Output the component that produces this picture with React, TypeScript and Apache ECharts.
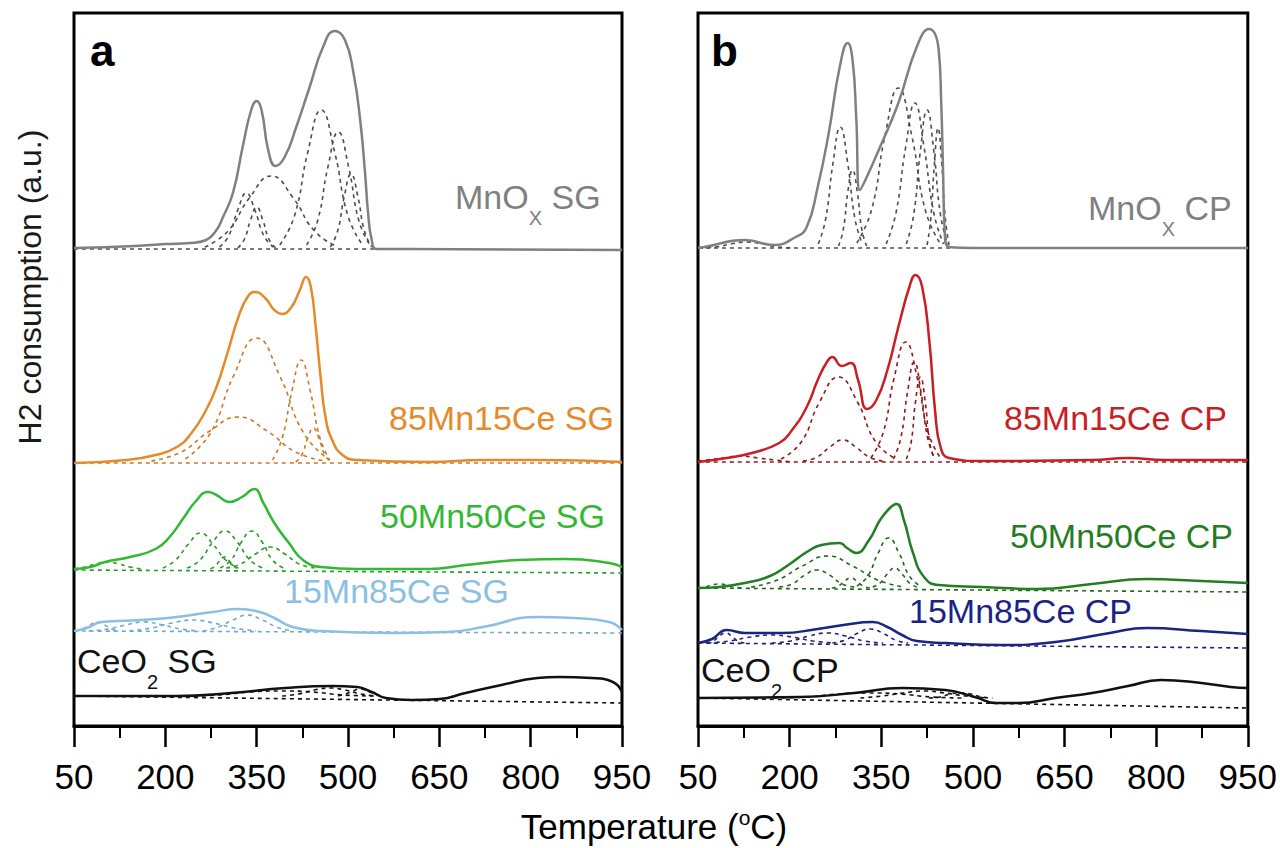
import React, { useEffect, useRef } from 'react';
import * as echarts from 'echarts';

// ---------- axis ----------
const T_MIN = 50;
const T_MAX = 950;
const T_STEP = 150;

// ---------- panel a (SG) main curves: [T (°C), signal above own baseline] ----------
const mnoxSG = [[50,1],[150,3],[200,5],[240,6],[267,9],[284,19],[294,31],[311,56],[327,102],[341,139],[350,148],[358,139],[369,99],[381,83],[396,92],[415,122],[437,162],[459,202],[478,218],[495,209],[509,176],[520,129],[528,76],[533,36],[539,9],[547,0],[600,0],[950,-1]];
const mn85SG = [[50,0],[136,3],[184,8],[219,16],[243,30],[267,53],[284,76],[302,110],[320,146],[335,166],[347,171],[364,165],[379,153],[391,149],[406,155],[421,173],[431,186],[439,176],[447,136],[455,86],[463,46],[474,23],[491,8],[515,3],[633,1],[722,3],[811,3],[950,1]];
const mn50SG = [[50,0],[77,2],[101,7],[142,12],[184,20],[207,32],[231,52],[249,67],[270,77],[284,74],[305,67],[326,72],[346,80],[361,66],[379,46],[403,26],[426,9],[456,2],[515,0],[633,0],[693,4],[781,9],[858,10],[929,6],[950,2]];
const mn15SG = [[50,0],[71,3],[95,9],[160,11],[219,14],[278,19],[320,22],[355,19],[379,13],[409,4],[456,0],[574,-2],[663,-1],[722,4],[811,14],[870,13],[929,9],[950,1]];
const ceo2SG = [[50,0],[219,0],[308,3],[397,8],[474,10],[515,9],[539,4],[562,-2],[604,-4],[651,-3],[693,3],[752,11],[811,18],[846,19],[900,18],[935,14],[950,4]];

// ---------- panel a deconvoluted components ----------
const mnoxSGComps = [
  [[289,2],[304,13],[319,39],[333,56],[347,39],[362,13],[377,2]],
  [[319,1],[330,10],[340,29],[350,42],[360,29],[370,10],[381,1]],
  [[265,2],[303,18],[338,51],[374,73],[410,51],[445,18],[483,2]],
  [[388,4],[412,33],[434,97],[456,139],[478,97],[500,33],[524,4]],
  [[432,4],[450,28],[467,82],[484,117],[501,82],[518,28],[536,4]],
  [[471,2],[483,18],[494,53],[505,75],[516,53],[527,18],[539,2]],
  [[50,0],[545,0]],
];
const mn85SGComps = [
  [[233,4],[274,30],[312,87],[350,125],[388,87],[427,30],[467,4]],
  [[177,2],[226,11],[273,32],[320,46],[367,32],[414,11],[463,2]],
  [[376,3],[392,25],[408,72],[423,103],[438,72],[454,25],[470,3]],
  [[414,1],[424,8],[434,25],[443,35],[452,25],[462,8],[472,1]],
  [[50,0],[950,0]],
];
const mn50SGComps = [
  [[196,1],[217,9],[238,25],[258,36],[278,25],[299,9],[320,1]],
  [[236,1],[257,9],[278,27],[298,38],[318,27],[339,9],[360,1]],
  [[290,1],[308,9],[325,27],[342,38],[359,27],[376,9],[394,1]],
  [[300,1],[324,5],[348,15],[372,22],[396,15],[420,5],[445,1]],
  [[274,0],[282,3],[289,8],[297,12],[305,8],[312,3],[320,0]],
  [[50,0],[68,2],[86,5],[105,7],[124,5],[142,2],[162,0]],
  [[50,-1],[950,-4]],
];
const mn15SGComps = [
  [[52,0],[64,2],[76,6],[88,9],[100,6],[112,2],[124,0]],
  [[74,0],[106,2],[135,6],[165,9],[195,6],[225,2],[256,0]],
  [[141,0],[177,3],[211,8],[245,11],[279,8],[313,3],[349,0]],
  [[262,0],[287,4],[311,11],[335,16],[359,11],[383,4],[408,0]],
  [[50,0],[950,-2]],
];
const ceo2SGComps = [
  [[234,0],[288,1],[339,4],[390,5],[441,4],[492,1],[546,0]],
  [[392,0],[419,2],[445,6],[470,8],[495,6],[521,2],[548,0]],
  [[484,0],[496,2],[508,5],[520,7],[532,5],[544,2],[556,0]],
  [[50,0],[950,-7]],
];

// ---------- panel b (CP) main curves ----------
const mnoxCP = [[50,0],[60,1],[127,8],[174,3],[210,11],[228,21],[246,61],[264,115],[282,181],[295,205],[303,188],[309,131],[315,58],[324,68],[348,101],[378,145],[408,201],[428,219],[444,198],[448,148],[451,81],[454,15],[461,1],[515,0],[950,0]];
const mn85CP = [[50,0],[97,4],[138,9],[183,19],[204,32],[228,55],[246,82],[261,100],[270,105],[285,96],[300,99],[312,82],[327,53],[342,62],[360,92],[378,135],[396,175],[406,187],[417,175],[429,119],[438,52],[447,15],[461,4],[515,1],[695,2],[754,4],[814,2],[950,2]];
const mn50CP = [[50,0],[85,1],[127,5],[168,12],[198,23],[228,36],[252,43],[282,45],[294,40],[309,35],[330,48],[348,68],[364,80],[375,84],[387,68],[402,35],[420,11],[444,3],[515,1],[605,-1],[695,4],[784,9],[874,7],[950,5]];
const mn15CP = [[50,0],[73,4],[97,13],[127,10],[187,10],[246,14],[288,18],[336,21],[360,16],[384,8],[408,2],[455,0],[545,-2],[635,1],[724,10],[784,15],[874,12],[950,9]];
const ceo2CP = [[50,0],[216,1],[306,5],[384,10],[455,8],[503,1],[539,-5],[575,-5],[635,0],[695,5],[754,12],[808,18],[874,15],[922,11],[950,10]];

// ---------- panel b deconvoluted components ----------
const mnoxCPComps = [
  [[52,0],[79,1],[104,4],[130,6],[156,4],[181,1],[208,0]],
  [[247,4],[259,29],[271,85],[283,121],[295,85],[307,29],[319,4]],
  [[280,2],[288,19],[295,55],[303,78],[311,55],[318,19],[326,2]],
  [[310,5],[334,38],[356,112],[378,160],[400,112],[422,38],[446,5]],
  [[358,4],[374,35],[390,101],[405,145],[420,101],[436,35],[452,4]],
  [[391,4],[403,33],[414,97],[425,138],[436,97],[447,33],[459,4]],
  [[425,3],[431,29],[437,84],[443,120],[449,84],[455,29],[461,3]],
  [[50,0],[470,0]],
];
const mn85CPComps = [
  [[50,1],[64,2],[92,4],[120,6],[148,4],[176,2],[204,0]],
  [[186,3],[219,20],[249,60],[280,85],[311,60],[341,20],[374,3]],
  [[222,1],[245,5],[266,15],[287,22],[308,15],[330,5],[352,1]],
  [[333,4],[353,29],[371,84],[390,120],[409,84],[427,29],[447,4]],
  [[370,3],[382,24],[393,70],[404,100],[415,70],[426,24],[438,3]],
  [[391,3],[399,20],[406,60],[414,85],[422,60],[429,20],[437,3]],
  [[50,0],[950,0]],
];
const mn50CPComps = [
  [[50,0],[61,1],[73,3],[85,4],[97,3],[109,1],[121,0]],
  [[137,1],[180,8],[221,22],[262,32],[303,22],[344,8],[387,1]],
  [[183,1],[204,4],[225,13],[245,18],[265,13],[286,4],[307,1]],
  [[269,0],[280,2],[290,7],[300,10],[310,7],[320,2],[331,0]],
  [[310,2],[328,12],[345,35],[362,50],[379,35],[396,12],[414,2]],
  [[336,1],[348,5],[360,14],[372,20],[384,14],[396,5],[408,1]],
  [[50,0],[950,-4]],
];
const mn15CPComps = [
  [[64,0],[75,2],[85,7],[95,10],[105,7],[115,2],[126,0]],
  [[66,0],[102,2],[136,6],[170,8],[204,6],[238,2],[274,0]],
  [[171,0],[202,2],[232,7],[262,10],[292,7],[322,2],[353,0]],
  [[270,0],[291,3],[312,10],[332,14],[352,10],[373,3],[394,0]],
  [[50,0],[950,-5]],
];
const ceo2CPComps = [
  [[174,0],[228,1],[279,4],[330,5],[381,4],[432,1],[486,0]],
  [[316,0],[352,2],[386,5],[420,7],[454,5],[488,2],[524,0]],
  [[428,0],[446,1],[463,4],[480,5],[497,4],[514,1],[532,0]],
  [[50,0],[950,-10]],
];

// ---------- layout / style config ----------
const FONT = '"Liberation Sans", Arial, Helvetica, sans-serif';
const GRID_TOP = 13;
const GRID_H = 713;

type Curve = {
  main: number[][]; comps: number[][][]; offset: number; color: string; dash: string;
  label: [string, boolean][]; lx: number; ly: number;
};

const panels: Curve[][] = [
  [
    { main: mnoxSG, comps: mnoxSGComps, offset: 477, color: '#808080', dash: '#4d4d4d', label: [['MnO', false], ['X', true], [' SG', false]], lx: 455, ly: 197 },
    { main: mn85SG, comps: mn85SGComps, offset: 263, color: '#E58A2A', dash: '#C97A28', label: [['85Mn15Ce SG', false]], lx: 389, ly: 418 },
    { main: mn50SG, comps: mn50SGComps, offset: 157, color: '#33B833', dash: '#2A9A2A', label: [['50Mn50Ce SG', false]], lx: 380, ly: 516 },
    { main: mn15SG, comps: mn15SGComps, offset: 95, color: '#8CC0E2', dash: '#6FA8D0', label: [['15Mn85Ce SG', false]], lx: 284, ly: 591 },
    { main: ceo2SG, comps: ceo2SGComps, offset: 30, color: '#111111', dash: '#111111', label: [['CeO', false], ['2', true], [' SG', false]], lx: 77, ly: 661 },
  ],
  [
    { main: mnoxCP, comps: mnoxCPComps, offset: 478, color: '#808080', dash: '#4d4d4d', label: [['MnO', false], ['X', true], [' CP', false]], lx: 1088, ly: 208 },
    { main: mn85CP, comps: mn85CPComps, offset: 264, color: '#C81E24', dash: '#8E1A1A', label: [['85Mn15Ce CP', false]], lx: 1004, ly: 418 },
    { main: mn50CP, comps: mn50CPComps, offset: 138, color: '#237D23', dash: '#1F6A1F', label: [['50Mn50Ce CP', false]], lx: 1010, ly: 536 },
    { main: mn15CP, comps: mn15CPComps, offset: 83, color: '#1B2384', dash: '#1B2370', label: [['15Mn85Ce CP', false]], lx: 909, ly: 611 },
    { main: ceo2CP, comps: ceo2CPComps, offset: 28, color: '#111111', dash: '#111111', label: [['CeO', false], ['2', true], [' CP', false]], lx: 701, ly: 670 },
  ],
];

const gridBoxes = [
  { left: 74, width: 548 },
  { left: 698, width: 550 },
];
const panelLetters = [
  { text: 'a', x: 90, y: 50 },
  { text: 'b', x: 711, y: 50 },
];

function measure(text: string, font: string): number {
  const ctx = document.createElement('canvas').getContext('2d');
  if (!ctx) return text.length * 18;
  ctx.font = font;
  return ctx.measureText(text).width;
}

export default function App() {
  const ref = useRef<HTMLDivElement>(null);

  useEffect(() => {
    if (!ref.current) return;
    const chart = echarts.init(ref.current, undefined, { renderer: 'svg' });

    const series: any[] = [];
    const graphics: any[] = [];
    const mainFont = `34px ${FONT}`;
    const subFont = `20px ${FONT}`;

    panels.forEach((curves, pi) => {
      curves.forEach((c) => {
        c.comps.forEach((comp) => {
          series.push({
            type: 'line', xAxisIndex: pi, yAxisIndex: pi, silent: true,
            data: comp.map(([t, s]) => [t, c.offset + s]),
            smooth: 0.5, symbol: 'none', showSymbol: false,
            lineStyle: { color: c.dash, width: 1.6, type: [4, 4] }, z: 2,
          });
        });
        series.push({
          type: 'line', xAxisIndex: pi, yAxisIndex: pi, silent: true,
          data: c.main.map(([t, s]) => [t, c.offset + s]),
          smooth: 0.5, symbol: 'none', showSymbol: false,
          lineStyle: { color: c.color, width: 2.5 }, z: 3,
        });
        // label with optional subscripts
        let x = c.lx;
        c.label.forEach(([txt, sub]) => {
          const f = sub ? subFont : mainFont;
          graphics.push({
            type: 'text', x, y: sub ? c.ly + 21 : c.ly, silent: true,
            style: { text: txt, font: f, fill: c.color, align: 'left', textAlign: 'left', verticalAlign: 'middle', textVerticalAlign: 'middle' },
          });
          x += measure(txt, f);
        });
      });
    });

    panelLetters.forEach((p) => {
      graphics.push({
        type: 'text', x: p.x, y: p.y, silent: true,
        style: { text: p.text, font: `bold 44px ${FONT}`, fill: '#000', align: 'left', textAlign: 'left', verticalAlign: 'middle', textVerticalAlign: 'middle' },
      });
    });

    // y axis title
    graphics.push({
      type: 'text', x: 30, y: 287, rotation: Math.PI / 2, silent: true,
      style: { text: 'H2 consumption (a.u.)', font: `32px ${FONT}`, fill: '#1a1a1a', align: 'center', textAlign: 'center', verticalAlign: 'middle', textVerticalAlign: 'middle' },
    });

    // x axis title with superscript o
    const tFont = `35px ${FONT}`;
    const supFont = `21px ${FONT}`;
    const p1 = 'Temperature (';
    const p2 = 'o';
    const p3 = 'C)';
    const w1 = measure(p1, tFont), w2 = measure(p2, supFont), w3 = measure(p3, tFont);
    const x0 = 654 - (w1 + w2 + w3) / 2;
    const ty = 826;
    graphics.push(
      { type: 'text', x: x0, y: ty, silent: true, style: { text: p1, font: tFont, fill: '#000', align: 'left', textAlign: 'left', verticalAlign: 'middle', textVerticalAlign: 'middle' } },
      { type: 'text', x: x0 + w1, y: ty - 9, silent: true, style: { text: p2, font: supFont, fill: '#000', align: 'left', textAlign: 'left', verticalAlign: 'middle', textVerticalAlign: 'middle' } },
      { type: 'text', x: x0 + w1 + w2, y: ty, silent: true, style: { text: p3, font: tFont, fill: '#000', align: 'left', textAlign: 'left', verticalAlign: 'middle', textVerticalAlign: 'middle' } },
    );

    const option: any = {
      animation: false,
      backgroundColor: '#ffffff',
      grid: gridBoxes.map((g) => ({
        left: g.left, width: g.width, top: GRID_TOP, height: GRID_H,
        show: true, borderColor: '#000', borderWidth: 3, backgroundColor: 'transparent',
      })),
      xAxis: gridBoxes.map((_, i) => ({
        type: 'value', gridIndex: i, min: T_MIN, max: T_MAX, interval: T_STEP,
        axisLine: { show: true, onZero: false, lineStyle: { color: '#000', width: 3 } },
        axisTick: { show: true, inside: false, length: 21, lineStyle: { color: '#000', width: 2.5 } },
        minorTick: { show: true, splitNumber: 2, length: 12, lineStyle: { color: '#000', width: 2 } },
        axisLabel: { show: true, fontSize: 35, fontFamily: FONT, color: '#000', margin: 33, showMinLabel: true, showMaxLabel: true, hideOverlap: false },
        splitLine: { show: false },
        minorSplitLine: { show: false },
      })),
      yAxis: gridBoxes.map((_, i) => ({
        type: 'value', gridIndex: i, min: 0, max: GRID_H, show: false,
        splitLine: { show: false },
      })),
      series,
      graphic: { elements: graphics },
    };

    chart.setOption(option);
    return () => chart.dispose();
  }, []);

  return (
    <div
      ref={ref}
      style={{ position: 'fixed', left: 0, top: 0, width: 1280, height: 848, background: '#fff' }}
    />
  );
}
